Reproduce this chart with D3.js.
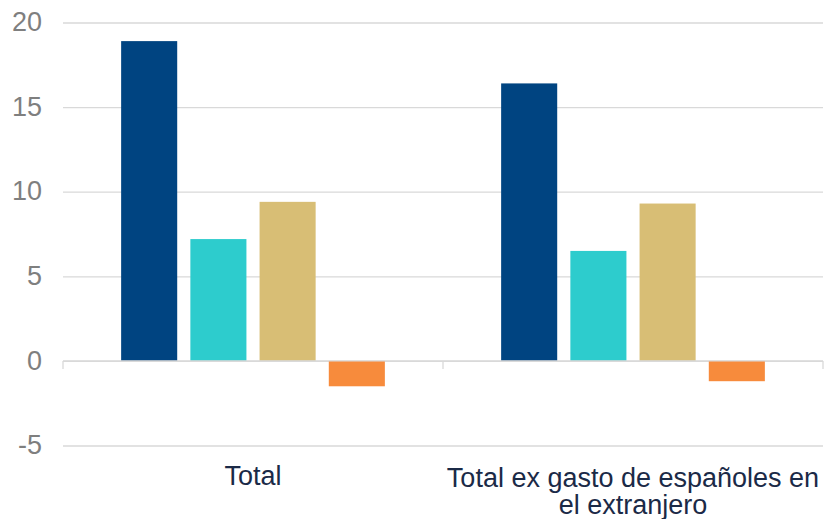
<!DOCTYPE html>
<html>
<head>
<meta charset="utf-8">
<script src="https://cdn.jsdelivr.net/npm/d3@7"></script>
<style>
  body { margin: 0; background: #fff; }
  text { font-family: "Liberation Sans", Arial, sans-serif; }
</style>
</head>
<body>
<script>
// data
const categories = ["Total", "Total ex gasto de españoles en el extranjero"];
const categoryLines = [["Total"], ["Total ex gasto de españoles en", "el extranjero"]];
const seriesNames = ["s1", "s2", "s3", "s4"];
const seriesValues = [
  [18.9, 7.2, 9.4, -1.5],
  [16.4, 6.5, 9.3, -1.2]
];
const yTicks = [-5, 0, 5, 10, 15, 20];
const colors = ["#004481", "#2DCCCD", "#D8BE75", "#F78B3C"];

let margin = null, width = null, height = null;
let svg = null;
let x0, x1, y = null;

setupCanvasSize();
appendSvg("body");
setupScales();
appendGrid();
appendBars();
appendZeroAxis();
appendLabels();

function setupCanvasSize() {
  margin = {top: 22.5, left: 63, bottom: 73.5, right: 2};
  width = 825 - margin.left - margin.right;
  height = 519 - margin.top - margin.bottom;
}

function appendSvg(domElement) {
  svg = d3.select(domElement).append("svg")
    .attr("width", width + margin.left + margin.right)
    .attr("height", height + margin.top + margin.bottom)
    .append("g")
    .attr("transform", `translate(${margin.left}, ${margin.top})`);
}

function setupScales() {
  x0 = d3.scaleBand().domain(categories).range([0, width]);
  x1 = d3.scaleBand().domain(seriesNames).range([0, x0.bandwidth()])
    .paddingInner(0.19).paddingOuter(0.84);
  y = d3.scaleLinear().domain([-5, 20]).range([height, 0]);
}

function appendGrid() {
  const g = svg.append("g")
    .call(d3.axisLeft(y).tickValues(yTicks).tickSize(-width).tickPadding(21)
      .tickFormat(d => String(d)));
  g.select(".domain").remove();
  g.selectAll(".tick line").attr("stroke", "#d9d9d9").attr("stroke-width", 1.3);
  g.selectAll(".tick text")
    .attr("fill", "#7f7f7f")
    .attr("dy", "0.3em")
    .style("font-size", "27px");
}

function appendBars() {
  const groups = svg.selectAll(".grp")
    .data(seriesValues)
    .enter().append("g")
    .attr("transform", (d, i) => `translate(${x0(categories[i])},0)`);
  groups.selectAll("rect")
    .data(d => d.map((v, j) => ({key: seriesNames[j], value: v, j: j})))
    .enter().append("rect")
    .attr("x", d => x1(d.key))
    .attr("width", x1.bandwidth())
    .attr("y", d => y(Math.max(0, d.value)))
    .attr("height", d => Math.abs(y(d.value) - y(0)))
    .attr("fill", d => colors[d.j]);
}

function appendZeroAxis() {
  const g = svg.append("g")
    .attr("transform", `translate(0, ${y(0)})`);
  g.append("line")
    .attr("x1", 0).attr("x2", width)
    .attr("stroke", "#d9d9d9").attr("stroke-width", 1.3);
  const ticks = [0, width / 2, width];
  g.selectAll(".vt")
    .data(ticks)
    .enter().append("line")
    .attr("x1", d => d).attr("x2", d => d)
    .attr("y1", 0).attr("y2", 8)
    .attr("stroke", "#d9d9d9").attr("stroke-width", 1.3);
}

function appendLabels() {
  const t = svg.selectAll(".cat")
    .data(categories)
    .enter().append("text")
    .attr("x", d => x0(d) + x0.bandwidth() / 2)
    .attr("y", (d, i) => categoryLines[i].length > 1 ? height + 41.5 : height + 39.5)
    .attr("text-anchor", "middle")
    .attr("fill", "#1b2a47")
    .style("font-size", "27px");
  t.each(function(d, i) {
    d3.select(this).selectAll("tspan")
      .data(categoryLines[i])
      .enter().append("tspan")
      .attr("x", x0(d) + x0.bandwidth() / 2)
      .attr("dy", (l, k) => k === 0 ? 0 : 27)
      .text(l => l);
  });
}
</script>
</body>
</html>
